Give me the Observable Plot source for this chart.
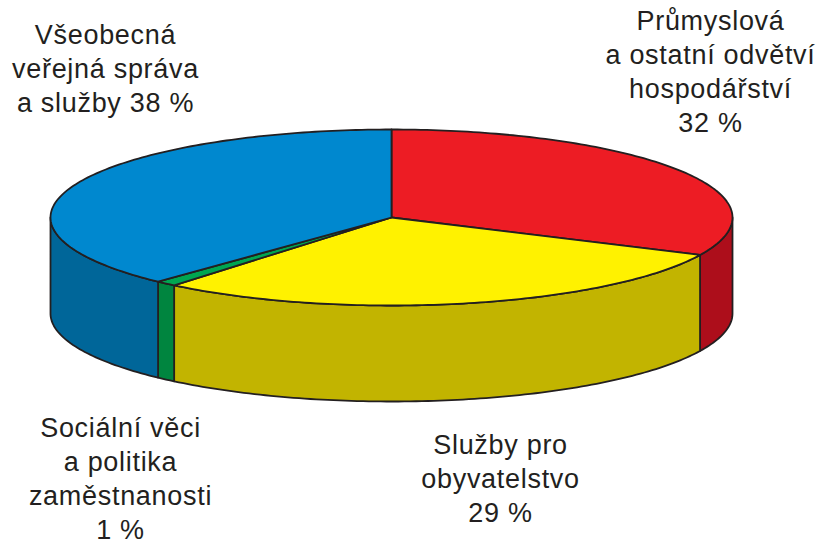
<!DOCTYPE html>
<html>
<head>
<meta charset="utf-8">
<script src="https://cdn.jsdelivr.net/npm/d3@7"></script>
<script src="https://cdn.jsdelivr.net/npm/@observablehq/plot@0.6"></script>
<style>
  html, body { margin: 0; padding: 0; background: #ffffff; }
  #chart svg { display: block; }
  #chart svg text { letter-spacing: 0.7px; }
</style>
</head>
<body>
<div id="chart"></div>
<script>
// ---- data ----
const categories = [
  "Průmyslová a ostatní odvětví hospodářství",
  "Služby pro obyvatelstvo",
  "Sociální věci a politika zaměstnanosti",
  "Všeobecná veřejná správa a služby"
];
const shares = [32, 29, 1, 38];
const labelTexts = [
  "Průmyslová\na ostatní odvětví\nhospodářství\n32 %",
  "Služby pro\nobyvatelstvo\n29 %",
  "Sociální věci\na politika\nzaměstnanosti\n1 %",
  "Všeobecná\nveřejná správa\na služby 38 %"
];
const topColors = ["#ed1c24", "#fff200", "#00a651", "#0088cf"];
const sideColors = ["#ad0e1b", "#c2b400", "#00853f", "#006699"];

// ---- layout (pie geometry in plot units) ----
const W = 820, H = 545;
const CX = 391, CY = 217, RX = 341, RY = 88, DEPTH = 96;
const labelPos = [[710, 70], [500, 477], [120, 477], [105, 67]];

const total = d3.sum(shares);
const rad = d => d * Math.PI / 180;
const arcPt = (deg, dy = 0) => ({x: CX + RX * Math.sin(rad(deg)), y: CY - RY * Math.cos(rad(deg)) + dy});
const arcRange = (a, b) => {
  const n = Math.max(2, Math.ceil((b - a) / 1));
  return d3.range(n + 1).map(k => a + (b - a) * k / n);
};

let cum = 0;
const slices = shares.map((v, i) => {
  const a = 360 * cum / total;
  cum += v;
  const b = 360 * cum / total;
  return {i, a, b};
});

const topPts = [];
const sidePts = [];
for (const s of slices) {
  topPts.push({id: s.i, fill: topColors[s.i], x: CX, y: CY});
  for (const t of arcRange(s.a, s.b)) topPts.push({id: s.i, fill: topColors[s.i], ...arcPt(t)});
  const st = Math.max(s.a, 90), en = Math.min(s.b, 270);
  if (st < en) {
    const ts = arcRange(st, en);
    for (const t of ts) sidePts.push({id: s.i, fill: sideColors[s.i], ...arcPt(t)});
    for (const t of ts.slice().reverse()) sidePts.push({id: s.i, fill: sideColors[s.i], ...arcPt(t, DEPTH)});
  }
}

const labels = labelTexts.map((t, i) => ({text: t, x: labelPos[i][0], y: labelPos[i][1]}));

const chart = Plot.plot({
  width: W,
  height: H,
  margin: 0,
  x: {domain: [0, W], range: [0, W], axis: null},
  y: {domain: [0, H], range: [0, H], axis: null},
  color: {type: "identity"},
  marks: [
    Plot.line(sidePts, {x: "x", y: "y", z: "id", fill: "fill", stroke: "#231f20", strokeWidth: 1.8, curve: "linear-closed", strokeLinejoin: "round"}),
    Plot.line(topPts, {x: "x", y: "y", z: "id", fill: "fill", stroke: "#231f20", strokeWidth: 1.8, curve: "linear-closed", strokeLinejoin: "round"}),
    Plot.text(labels, {x: "x", y: "y", text: "text", lineAnchor: "middle", textAnchor: "middle", lineHeight: 1.26, fontSize: 27, fill: "#231f20", fontFamily: "'Liberation Sans', Arial, Helvetica, sans-serif"})
  ]
});
document.getElementById("chart").appendChild(chart);
</script>
</body>
</html>
